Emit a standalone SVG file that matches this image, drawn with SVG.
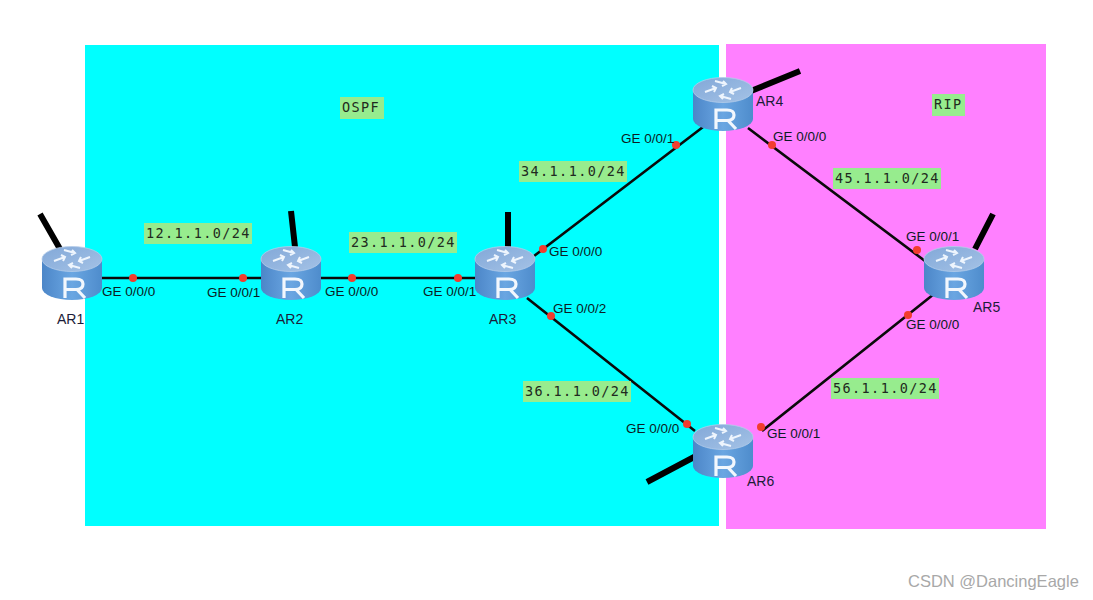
<svg xmlns="http://www.w3.org/2000/svg" width="1093" height="600" viewBox="0 0 1093 600">
<style>
.lnk{stroke:#0a0a0a;stroke-width:2.6;fill:none}
.ext{stroke:#000;stroke-width:6;fill:none}
.dot{fill:#f23c2e}
.t{font-family:"Liberation Sans",Arial,sans-serif;font-size:13.5px;fill:#0c1c24}
.nm{font-family:"Liberation Sans",Arial,sans-serif;font-size:14px;fill:#1c1c38}
.bg{fill:#97ec8e}
.m{font-family:"DejaVu Sans Mono",monospace;font-size:13.5px;letter-spacing:1.4px;fill:#1f2a20}
.wm{font-family:"Liberation Sans",Arial,sans-serif;font-size:16.5px;fill:#a8a8a8}
.arrow{fill:none;stroke:#eef5fd;stroke-width:2}
</style>
<defs>
<linearGradient id="side" x1="0" x2="1" y1="0" y2="0"><stop offset="0" stop-color="#4c86c8"/><stop offset=".5" stop-color="#6aa6e2"/><stop offset="1" stop-color="#4e8ccc"/></linearGradient>
<linearGradient id="top" x1="0" x2="1" y1="0" y2="1"><stop offset="0" stop-color="#82a8d8"/><stop offset="1" stop-color="#a4c2e6"/></linearGradient>
<symbol id="router" overflow="visible" viewBox="-31 -14 62 56" x="-31" y="-14" width="62" height="56">
<path d="M-30 0V29A30 12 0 0 0 30 29V0Z" fill="url(#side)"/>
<ellipse cx="0" cy="0" rx="30" ry="12.5" fill="url(#top)" stroke="#b5cdea" stroke-width=".8"/>
<path class="arrow" d="M-18 2L-7 -2M-11 -4L-7 -2L-9 2M-8 -9L3 -6M-1 -4L3 -6L0 -9M18 -2L7 2M11 4L7 2L9 -2M8 9L-3 6M1 4L-3 6L0 9"/>
<path d="M-7 39V20H4Q11 20 11 25Q11 30.500 4 30.500H-7M5 30.500L13 39" fill="none" stroke="#f2f7fd" stroke-width="3.200"/>
</symbol>
</defs>
<rect width="1093" height="600" fill="#fff"/>
<rect id="ospf-area" x="85" y="45" width="634" height="481" fill="#00ffff"/>
<rect id="rip-area" x="726" y="44" width="320" height="485" fill="#ff80ff"/>
<g id="connectors">
<path class="lnk" d="M102 278H261M321 278H475M534 256L703 127M527 298L695 431M748 128L933 267M762 431L934 294"/>
<path class="ext" d="M40 214L60 249M291 211L295 247M508 212L508 248M751 91L800 71M975 249L993 214M696 456L647 482"/>
</g>
<g id="ports">
<circle class="dot" cx="133" cy="278" r="4"/><circle class="dot" cx="243" cy="278" r="4"/>
<circle class="dot" cx="352" cy="278" r="4"/><circle class="dot" cx="458" cy="278" r="4"/>
<circle class="dot" cx="543" cy="249" r="4"/><circle class="dot" cx="676" cy="145" r="4"/>
<circle class="dot" cx="772" cy="145" r="4"/><circle class="dot" cx="917" cy="250" r="4"/>
<circle class="dot" cx="908" cy="315" r="4"/><circle class="dot" cx="761" cy="427" r="4"/>
<circle class="dot" cx="551" cy="316" r="4"/><circle class="dot" cx="687" cy="424" r="4"/>
</g>
<g id="AR1"><use href="#router" transform="translate(72 259)"/><text class="nm" x="57" y="324">AR1</text></g>
<g id="AR2"><use href="#router" transform="translate(291 259)"/><text class="nm" x="276" y="324">AR2</text></g>
<g id="AR3"><use href="#router" transform="translate(505 259)"/><text class="nm" x="489" y="324">AR3</text></g>
<g id="AR4"><use href="#router" transform="translate(723 90)"/><text class="nm" x="756" y="106">AR4</text></g>
<g id="AR5"><use href="#router" transform="translate(954 259)"/><text class="nm" x="973" y="312">AR5</text></g>
<g id="AR6"><use href="#router" transform="translate(723 437)"/><text class="nm" x="747" y="486">AR6</text></g>
<g id="port-labels">
<text class="t" x="102" y="296">GE 0/0/0</text><text class="t" x="207" y="297">GE 0/0/1</text>
<text class="t" x="325" y="296">GE 0/0/0</text><text class="t" x="423" y="296">GE 0/0/1</text>
<text class="t" x="549" y="256">GE 0/0/0</text><text class="t" x="621" y="143">GE 0/0/1</text>
<text class="t" x="773" y="141">GE 0/0/0</text><text class="t" x="906" y="241">GE 0/0/1</text>
<text class="t" x="906" y="329">GE 0/0/0</text><text class="t" x="767" y="438">GE 0/0/1</text>
<text class="t" x="553" y="313">GE 0/0/2</text><text class="t" x="626" y="433">GE 0/0/0</text>
</g>
<g id="notes">
<rect class="bg" x="144" y="223" width="108" height="21"/><text class="m" x="146" y="238">12.1.1.0/24</text>
<rect class="bg" x="349" y="232" width="108" height="21"/><text class="m" x="351" y="247">23.1.1.0/24</text>
<rect class="bg" x="519" y="161" width="108" height="21"/><text class="m" x="521" y="176">34.1.1.0/24</text>
<rect class="bg" x="523" y="381" width="108" height="21"/><text class="m" x="525" y="396">36.1.1.0/24</text>
<rect class="bg" x="833" y="168" width="108" height="21"/><text class="m" x="835" y="183">45.1.1.0/24</text>
<rect class="bg" x="831" y="378" width="108" height="21"/><text class="m" x="833" y="393">56.1.1.0/24</text>
<rect class="bg" x="340" y="97" width="44" height="22"/><text class="m" x="342" y="112">OSPF</text>
<rect class="bg" x="932" y="94" width="33" height="22"/><text class="m" x="934" y="109">RIP</text>
</g>
<text class="wm" x="908" y="587">CSDN @DancingEagle</text>
</svg>
